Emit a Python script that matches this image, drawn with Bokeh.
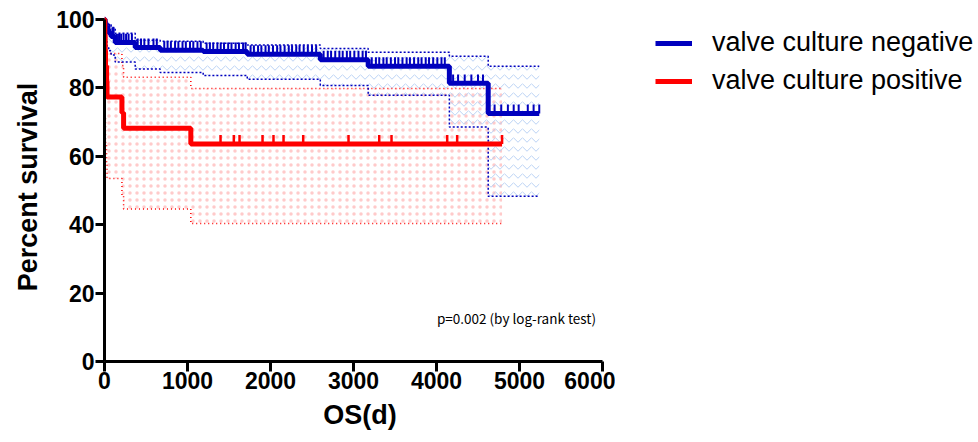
import numpy as np
from bokeh.plotting import figure
from bokeh.layouts import row
from bokeh.models import Range1d, Legend, LegendItem, Label, FixedTicker
from bokeh.embed import file_html
from bokeh.resources import INLINE

# ---------------- data ----------------
# valve culture negative (Kaplan-Meier steps, 95% CI)
neg_time = [0, 8, 18, 30, 50, 80, 129, 370, 671, 1189, 1720, 2600, 3177, 4155, 4623]
neg_surv = [100, 99, 98, 97, 96, 95, 93.2, 91.8, 91.0, 90.6, 89.8, 88.2, 86.3, 81.3, 72.5]
neg_upper = [100, 100, 99.6, 99.0, 98.4, 97.6, 95.9, 93.9, 93.6, 93.0, 92.5, 91.5, 90.4, 89.2, 86.3]
neg_lower = [100, 95.5, 93.5, 92.0, 90.8, 89.6, 87.5, 85.5, 84.5, 83.6, 82.5, 80.7, 77.8, 68.5, 48.3]
neg_end = 5238
neg_censor = [60, 95, 110, 150, 175, 200, 230, 260, 290, 330,
              400, 440, 480, 530, 590, 630,
              720, 760, 800, 850, 890, 940, 980, 1030, 1070, 1120, 1160,
              1230, 1270, 1310, 1360, 1400, 1440, 1490, 1530, 1580, 1620, 1670, 1700,
              1760, 1800, 1850, 1890, 1940, 1980, 2030, 2080, 2120, 2170, 2220, 2260,
              2310, 2350, 2400, 2450, 2500, 2550,
              2640, 2690, 2730, 2780, 2830, 2870, 2920, 2960, 3010, 3060, 3110, 3150,
              3220, 3270, 3310, 3360, 3400, 3450, 3500, 3540, 3590, 3640, 3680, 3730,
              3780, 3820, 3870, 3910, 3960, 4010, 4060, 4100,
              4200, 4260, 4340, 4420, 4500, 4560,
              4700, 4780, 4860, 4930, 4990, 5100, 5170, 5238]

# valve culture positive
pos_time = [0, 4, 8, 12, 25, 30, 210, 230, 1040]
pos_surv = [100, 95.5, 90.9, 86.4, 81.8, 77.3, 72.7, 68.2, 63.6]
pos_upper = [100, 100, 98.5, 96, 93, 90, 86.5, 83.1, 79.8]
pos_lower = [100, 82, 72, 64, 58, 53.5, 48.5, 44.6, 40.3]
pos_end = 4790
pos_censor = [1398, 1558, 1627, 1904, 2036, 2157, 2394, 2940, 3310, 3458, 4129, 4249, 4790]

x_ticks = [0, 1000, 2000, 3000, 4000, 5000, 6000]
y_ticks = [0, 20, 40, 60, 80, 100]

labels = ["valve culture negative", "valve culture positive"]
p_text = "p=0.002 (by log-rank test)"

BLUE = "#0000be"
RED = "#ff0000"


def ext(t, v, end):
    return list(t) + [end], list(v) + [v[-1]]


def censor_y(t, s, c):
    idx = np.searchsorted(np.array(t), np.array(c), side="right") - 1
    return list(np.array(s)[idx])


# main plot: frame a little wider than the 0..6000 axis so the note is not clipped
W1 = 615
FRAME_W = W1 - 104
X_END = 6000 * FRAME_W / 498.0

p = figure(width=W1, height=442, output_backend="svg", toolbar_location=None,
           x_range=Range1d(0, X_END), y_range=Range1d(0, 102),
           min_border_left=104, min_border_right=0, min_border_top=12, min_border_bottom=81)
p.outline_line_color = None
p.xgrid.visible = False
p.ygrid.visible = False

# CI hatched areas
tx, up = ext(pos_time, pos_upper, pos_end)
_, lo = ext(pos_time, pos_lower, pos_end)
p.varea_step(x=tx, y1=lo, y2=up, step_mode="after", fill_color=None, fill_alpha=0,
             hatch_pattern="dot", hatch_color="#ffc4c4", hatch_scale=7, hatch_weight=1.0, hatch_alpha=0.9)
tbx, bup = ext(neg_time, neg_upper, neg_end)
_, blo = ext(neg_time, neg_lower, neg_end)
p.varea_step(x=tbx, y1=blo, y2=bup, step_mode="after", fill_color=None, fill_alpha=0,
             hatch_pattern="horizontal_wave", hatch_color="#b3cdf3", hatch_scale=9, hatch_weight=1, hatch_alpha=0.9)

# CI dotted lines
p.step(tx, up, mode="after", line_color=RED, line_width=1.5, line_dash="1 3")
p.step(tx, lo, mode="after", line_color=RED, line_width=1.5, line_dash="1 3")
p.step(tbx, bup, mode="after", line_color=BLUE, line_width=1.5, line_dash="2 2")
p.step(tbx, blo, mode="after", line_color=BLUE, line_width=1.5, line_dash="2 2")

# survival curves with censoring ticks
bx, by = ext(neg_time, neg_surv, neg_end)
p.step(bx, by, mode="after", line_color=BLUE, line_width=5)
neg_cy = [v + 1.3 for v in censor_y(neg_time, neg_surv, neg_censor)]
p.scatter(neg_censor, neg_cy, marker="dash", angle=np.pi / 2, size=9,
          line_color=BLUE, line_width=2)

rx, ry = ext(pos_time, pos_surv, pos_end)
p.step(rx, ry, mode="after", line_color=RED, line_width=5)
pos_cy = [v + 1.3 for v in censor_y(pos_time, pos_surv, pos_censor)]
p.scatter(pos_censor, pos_cy, marker="dash", angle=np.pi / 2, size=9,
          line_color=RED, line_width=2.5)

# axes
for ax in (p.xaxis[0], p.yaxis[0]):
    ax.axis_line_width = 3
    ax.major_tick_line_width = 3
    ax.major_tick_in = 0
    ax.minor_tick_line_color = None
    ax.major_label_text_font = "Liberation Sans"
    ax.major_label_text_font_style = "bold"
    ax.major_label_text_font_size = "23px"
    ax.major_label_text_color = "black"
    ax.axis_label_text_font = "Liberation Sans"
    ax.axis_label_text_font_style = "bold"
    ax.axis_label_text_font_size = "27px"
    ax.axis_label_text_color = "black"

p.xaxis[0].ticker = FixedTicker(ticks=x_ticks)
p.yaxis[0].ticker = FixedTicker(ticks=y_ticks)
p.xaxis[0].bounds = (0, 6000)
p.yaxis[0].bounds = (0, 100)
p.xaxis[0].major_tick_out = 10
p.yaxis[0].major_tick_out = 9
p.xaxis[0].major_label_standoff = 0
p.yaxis[0].major_label_standoff = 1
p.xaxis[0].axis_label = "OS(d)"
p.yaxis[0].axis_label = "Percent survival"
p.xaxis[0].axis_label_standoff = 8
p.yaxis[0].axis_label_standoff = 10

# p-value text
p.add_layout(Label(x=4005, y=12.6, text=p_text, text_font="Noto Sans CJK KR",
                   text_font_size="13.5px", text_baseline="middle", text_color="black"))

# legend panel (separate figure to the right; its frame is aligned with the main frame)
W2 = 978 - W1
q = figure(width=W2, height=442, output_backend="svg", toolbar_location=None,
           x_axis_type=None, y_axis_type=None, x_range=Range1d(0, 1), y_range=Range1d(0, 1),
           min_border=0)
q.outline_line_color = None
q.xgrid.visible = False
q.ygrid.visible = False
# legend-only renderers (kept outside the visible range of this panel)
off = [-5, -4]
l_neg = q.line(off, off, line_color=BLUE, line_width=5)
t_neg = q.scatter(off, off, marker="dash", angle=np.pi / 2, size=9, line_color=BLUE, line_width=2)
l_pos = q.line(off, off, line_color=RED, line_width=5)
t_pos = q.scatter(off, off, marker="dash", angle=np.pi / 2, size=9, line_color=RED, line_width=2.5)

legend = Legend(items=[LegendItem(label=labels[0], renderers=[l_neg, t_neg]),
                       LegendItem(label=labels[1], renderers=[l_pos, t_pos])],
                location=(40, 265), orientation="vertical",
                label_text_font="Liberation Sans", label_text_font_size="27px",
                label_text_color="black",
                glyph_width=37, glyph_height=20, label_height=20, label_standoff=20,
                spacing=7, padding=0, margin=0, border_line_color=None,
                background_fill_alpha=0)
q.add_layout(legend)

open("out.html", "w").write(file_html(row(p, q), INLINE))
